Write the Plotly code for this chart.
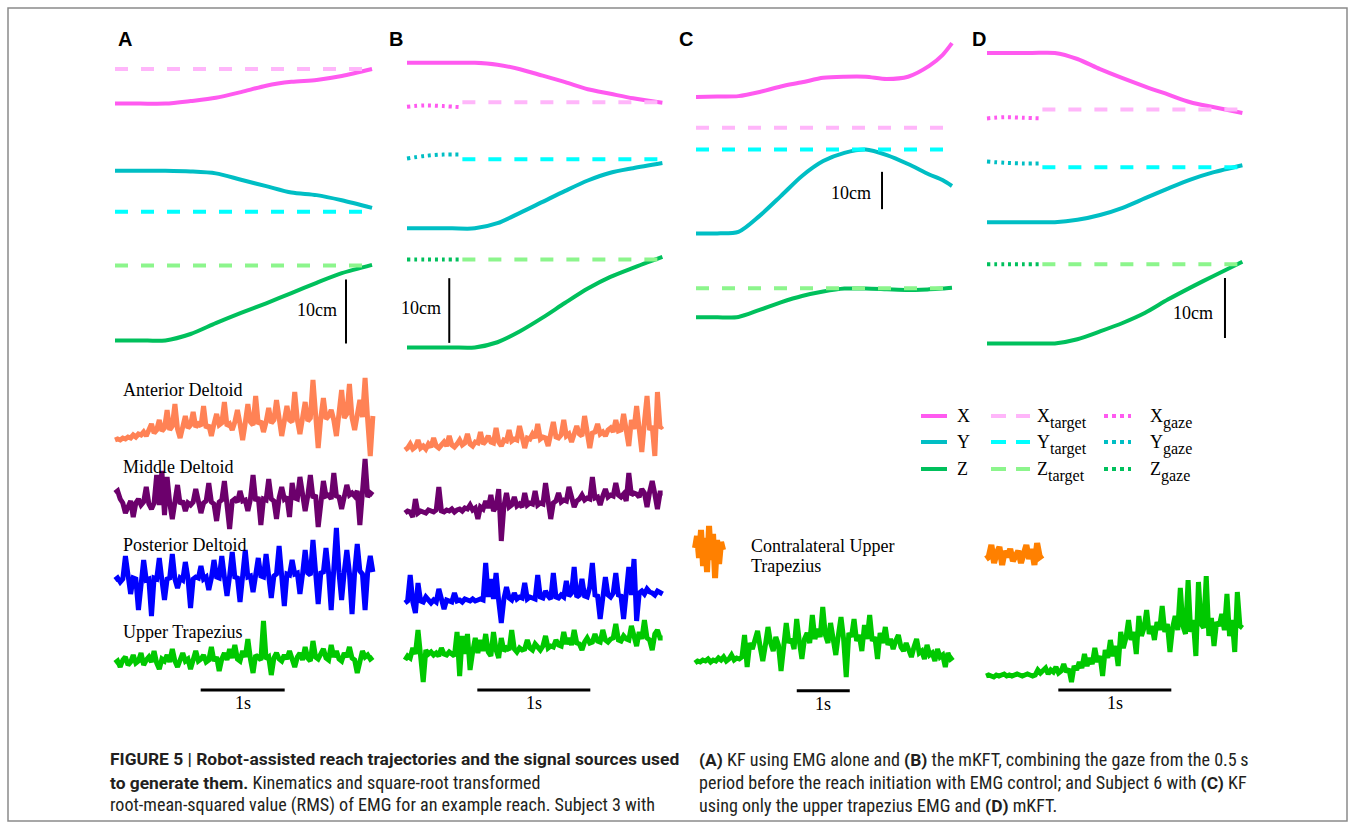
import numpy as np
import plotly.graph_objects as go

W, H = 1355, 829

# ---------------- Kinematics (cm) vs time (s) ----------------
tA = [0, 0.3, 0.6, 0.9, 1.2, 1.5, 1.8, 2.1, 2.4, 2.7, 3.06]
XA = [38.5, 38.5, 38.5, 38.9, 39.4, 40.3, 41.3, 41.9, 42.2, 42.8, 43.9]
YA = [28.0, 28.0, 28.0, 27.9, 27.6, 26.6, 25.6, 24.6, 24.2, 23.4, 22.2]
ZA = [1.5, 1.5, 1.5, 2.5, 4.2, 5.8, 7.3, 8.9, 10.5, 12.0, 13.3]
targetA = [43.9, 21.6, 13.2]

tB = [0, 0.2, 0.4, 0.6, 0.8, 1.0, 1.2, 1.4, 1.6, 1.8, 2.0, 2.26]
XB = [44.4, 44.4, 44.4, 44.4, 44.1, 43.4, 42.4, 41.4, 40.3, 39.6, 38.9, 38.2]
YB = [18.8, 18.8, 18.8, 18.8, 19.6, 21.2, 22.9, 24.6, 26.2, 27.4, 28.1, 28.9]
ZB = [0.4, 0.4, 0.4, 0.4, 1.2, 2.9, 5.0, 7.3, 9.5, 11.3, 12.7, 14.4]
targetB = [38.3, 29.5, 14.0]
tgazeB = [0, 0.16, 0.32, 0.49]
XgB = [37.6, 37.8, 37.7, 37.5]
YgB = [29.6, 30.0, 30.2, 30.2]
ZgB = [14.0, 14.0, 14.0, 14.0]

tC = [0, 0.4, 0.8, 1.2, 1.6, 2.0, 2.4, 2.8, 3.2, 3.6, 4.0, 4.4, 4.65, 4.83]
XC = [62.5, 62.6, 62.7, 63.8, 65.3, 66.4, 67.6, 67.9, 67.9, 67.3, 67.9, 70.8, 73.7, 76.9]
YC = [25.9, 25.9, 26.3, 30.6, 35.9, 41.3, 45.3, 47.5, 48.4, 46.9, 44.5, 41.7, 40.2, 38.6]
ZC = [3.4, 3.4, 3.5, 5.4, 7.4, 9.1, 10.3, 11.1, 11.1, 10.9, 10.7, 10.9, 11.1, 11.3]
targetC = [54.2, 48.4, 11.2]

tD = [0, 0.2, 0.4, 0.6, 0.8, 1.0, 1.2, 1.4, 1.6, 1.8, 2.0, 2.26]
XD = [49.5, 49.5, 49.5, 49.5, 48.5, 46.8, 45.3, 43.9, 42.6, 41.3, 40.5, 39.5]
YD = [21.3, 21.3, 21.3, 21.3, 21.7, 22.5, 23.7, 25.3, 26.9, 28.4, 29.6, 30.8]
ZD = [1.1, 1.1, 1.1, 1.1, 1.8, 3.1, 4.5, 6.2, 8.4, 10.4, 12.3, 14.7]
targetD = [40.1, 30.45, 14.3]
tgazeD = [0, 0.16, 0.32, 0.49]
XgD = [38.6, 38.8, 38.7, 38.6]
YgD = [31.4, 31.2, 31.1, 31.1]
ZgD = [14.3, 14.3, 14.3, 14.3]

scale_cm = 10
scale_s = 1

# ---------------- EMG RMS (a.u.), uniformly sampled ----------------
emg_A_ant = [0, 1, 0, 2, 1, 3, 2, 5, 3, 6, 5, 8, 4, 9, 16, 7, 10, 20, 9, 12,
             30, 10, 14, 36, 11, 2, 13, 24, 12, 15, 28, 13, 16, 14, 34, 12, 15, 4, 16, 26,
             15, 17, 38, 14, 16, 10, 18, 30, 16, 0, 17, 36, 18, 15, 44, 16, 19, 8, 18, 32,
             17, 20, 40, 18, 4, 19, 34, 20, 18, 48, 20, 6, 21, 38, 19, 22, 60, 20, -8, 22,
             42, 21, 24, 30, 20, 4, 23, 50, 22, 26, 56, 22, 10, 24, 40, 23, 62, 20, -16, 24]
emg_A_mid = [12, 14, 6, 2, -8, 0, 4, -12, 2, 6, 0, 3, 18, 1, -4, 2, 30, 0, 34, -10,
             28, 2, -14, 3, 20, 1, 4, -6, 2, 0, 3, 16, 1, -8, 2, 4, 22, 3, 1, -16,
             3, 5, 24, 2, -24, 4, 6, 3, 14, 4, 5, -6, 6, 30, 4, 8, -20, 6, 5, 26,
             6, 4, -14, 7, 18, 6, 8, -12, 22, 7, 6, 28, 8, -6, 9, 30, 7, 10, -22, 8,
             24, 9, 10, 6, 32, 9, 8, -4, 11, 20, 10, 12, 9, 14, -20, 10, 46, 8, 12, 10]
emg_A_post = [0, 2, -2, 1, 24, 0, -14, 2, 1, -30, 2, 20, 0, 1, -36, 2, 1, 22, 0, -20,
              1, 2, 26, 1, -8, 2, 0, 18, 2, -28, 1, 3, 2, 14, 1, 3, -10, 2, 20, 3,
              2, 24, 3, -16, 4, 28, 3, 2, -22, 4, 30, 3, 4, -12, 5, 22, 4, 3, 26, 5,
              -18, 4, 6, 34, 5, -26, 6, 5, 20, 6, 7, -14, 6, 30, 7, 5, 40, 6, -24, 7,
              8, 32, 7, -30, 8, 52, 7, -20, 8, 30, 7, -34, 8, 36, 9, 6, -30, 8, 24, 8]
emg_A_trap = [0, 2, -4, 3, 6, -2, 1, 8, 0, 2, 10, -2, 3, 6, 1, 12, 0, -6, 4, 2,
              8, 1, 14, 2, -4, 3, 10, 2, 4, -6, 3, 12, 2, 4, 8, 1, 3, 16, 2, 6,
              -8, 4, 10, 3, 14, 5, 18, 4, 2, 12, 6, 24, 4, -10, 8, 6, 3, 42, 4, 6,
              -12, 5, 10, 4, 2, 8, 4, 12, 5, -4, 6, 10, 3, 16, 5, 2, 22, 6, 4, 8,
              14, 5, 3, 18, 6, 12, 4, 2, 10, 6, 16, 5, 3, -10, 4, 12, 6, 8, 4, 6]

emg_B_ant = [0, 2, 6, 1, 3, 10, 2, 4, 1, 6, 3, 12, 4, 2, 5, 8, 4, 14, 5, 3,
             6, 10, 5, 7, 16, 6, 4, 8, 7, 18, 6, 9, 14, 8, 7, 22, 8, 4, 10, 9,
             20, 9, 11, 10, 24, 10, 2, 12, 11, 16, 12, 26, 11, 13, 12, 4, 14, 28, 13, 12,
             15, 30, 14, 16, 8, 15, 24, 16, 14, 34, 16, 2, 17, 18, 26, 16, 18, 14, 20, 22,
             18, 30, 19, 20, 36, 22, 4, 30, 21, 44, 22, -2, 28, 54, 20, 24, -6, 58, 22, 24]
emg_B_mid = [0, 2, 1, -4, 14, 0, 2, 1, 0, 3, 2, 1, 3, 26, 2, 1, 3, 2, 4, 1,
             3, 4, 2, 5, 4, 8, 3, 5, -6, 6, 4, 12, 5, 18, 2, 6, 24, -28, 7, 20,
             6, 8, 16, 7, 9, 6, 20, 8, 10, 9, 22, 8, 10, 9, 30, 11, -6, 10, 12, 20,
             11, 13, 12, 26, 14, 6, 12, 14, 18, 13, 15, 14, 36, 15, 16, 8, 17, 24, 16, 18,
             17, 30, 18, 16, 19, 12, 40, 18, 20, 19, 16, 24, 20, 6, 21, 32, 19, 4, 20, 20]
emg_B_post = [0, 2, 28, 1, -10, 20, 2, 1, 6, 2, 0, 3, 1, 14, 2, -6, 3, 2, 1, 10,
              2, 3, 1, 4, 3, 2, 4, 2, 3, 4, 3, 40, 6, 24, 4, 30, 2, -20, 4, 16,
              5, 3, 10, 4, 6, 5, 20, 4, 6, 5, 4, 28, 6, 5, 12, 7, 4, 30, 6, 5,
              8, 6, 22, 7, 10, 36, 6, 8, 24, 7, 6, 16, 40, 8, 7, -16, 9, 26, 8, 6,
              10, 30, 8, 7, -16, 9, 36, 8, 44, -18, 10, 12, 9, 14, 11, 10, 8, 12, 10, 9]
emg_B_trap = [0, 4, 2, 12, 6, 30, 4, -22, 10, 6, 8, 5, 7, 4, 12, 6, 5, 8, 6, 4,
              28, -16, 24, 6, 26, -10, 8, 22, 7, 20, 9, 26, 8, 4, 28, 10, 2, 22, 9, 12,
              10, 30, 11, 8, 12, 10, 11, 20, 12, 10, 16, 13, 10, 14, 24, 12, 14, 13, 20, 15,
              14, 28, 16, 22, 15, 30, 17, 16, 10, 18, 22, 17, 18, 26, 19, 18, 30, 20, 18, 21,
              22, 36, 20, 19, 24, 21, 20, 34, 22, 14, 28, 21, 40, 22, 20, 10, 26, 30, 22, 22]

emg_C_contra = [2, 14, -8, 20, -16, 12, -22, 24, -10, 16, -28, 10, -14, 8, 0]
emg_C_trap = [0, 2, 1, 3, 2, 4, 1, 3, 2, 5, 3, 6, 2, 4, 8, 3, 5, 4, 6, 28,
              -4, 20, 14, 22, 32, 16, 2, 18, 36, 20, 12, 26, 18, -8, 22, 40, 20, 24, 14, 44,
              22, 4, 24, 30, 20, 48, 24, 34, 26, 56, 28, 20, 40, 26, 8, 28, 46, 24, -14, 30,
              26, 44, 22, 28, 12, 38, 24, 48, 22, 26, 4, 30, 20, 36, 18, 24, 14, 22, 28, 16,
              12, 20, 14, 6, 16, 24, 10, 12, 4, 18, 8, 10, 2, 14, 6, 8, -4, 10, 4, 6]
emg_D_contra = [0, 2, 14, -4, 6, 12, -6, 8, 2, 10, -2, 4, 8, -4, 6, 14, 0, 10, -6, 16, 2, 4]
emg_D_trap = [0, 1, 0, -1, 1, 0, 1, 2, 0, 1, 0, 1, 2, 1, 0, 1, 2, 1, 0, 1,
              6, 3, 5, 8, 2, 6, 4, 9, 3, 5, 12, 4, 7, -6, 10, 6, 14, 8, 22, 10,
              18, 12, 28, 14, 20, 0, 26, 18, 36, 20, 30, 10, 44, 28, 38, 56, 36, 44, 22, 60,
              40, 48, 66, 42, 50, 36, 54, 46, 70, 44, 52, 24, 48, 60, 46, 88, 50, 42, 96, 44,
              56, 20, 94, 52, 48, 100, 40, 58, 30, 54, 50, 62, 46, 82, 40, 56, 24, 84, 50, 48]

emg_dur = {"A": 3.07, "B": 2.28, "C": 4.87, "D": 2.27, "C_contra": 0.53, "D_contra": 0.50}
muscle_names = ["Anterior Deltoid", "Middle Deltoid", "Posterior Deltoid", "Upper Trapezius"]

# ---------------- styles ----------------
C_X, C_Xt = "rgb(255,90,240)", "rgb(255,182,250)"
C_Y, C_Yt = "rgb(0,190,196)", "rgb(0,255,255)"
C_Z, C_Zt = "rgb(0,192,92)", "rgb(140,245,140)"
C_ANT, C_MID, C_POST, C_TRAP, C_CON = ("rgb(255,130,85)", "rgb(108,0,108)", "rgb(0,0,255)",
                                       "rgb(0,200,0)", "rgb(255,128,0)")
DASH = "13px,13px"
DOT = "3px,4px"
SERIF = "Liberation Serif, Times New Roman, serif"
SANS = "Liberation Sans, Arial, sans-serif"
CAPFONT = "Roboto Condensed, Liberation Sans Narrow, Arial Narrow, sans-serif"

# ---------------- layout geometry (pixels) ----------------
def xdom(l, r):
    return [l / W, r / W]

def ydom(t, b):
    return [1 - b / H, 1 - t / H]

def pxx(x):
    return x / W

def pxy(y):
    return 1 - y / H

kin = {
    "A": dict(x0=115, pps=84, base=350, ppcm=6.4, bar=(2.75, 1.0), lab=(2.67, 6.25)),
    "B": dict(x0=407, pps=113, base=350, ppcm=6.47, bar=(0.374, 1.1), lab=(0.32, 6.5)),
    "C": dict(x0=696, pps=53, base=330, ppcm=3.73, bar=(3.51, 32.4), lab=(3.34, 36.7)),
    "D": dict(x0=987, pps=113, base=350, ppcm=6.0, bar=(2.106, 2.0), lab=(2.02, 6.2)),
}
emgx0 = {"A": 115, "B": 405, "C": 695, "D": 986}
emg_ref = {
    "A": [440, 505, 580, 663],
    "B": [450, 513, 603, 660],
    "C": [550, 663],
    "D": [559, 676],
}
emg_base = 700
sbar = {"A": (1.02, 10), "B": (0.64, 10), "C": (1.92, 9.3), "D": (0.64, 10)}

fig = go.Figure()
layout = dict(width=W, height=H, margin=dict(l=0, r=0, t=0, b=0),
              paper_bgcolor="white", plot_bgcolor="rgba(0,0,0,0)", showlegend=False)
annotations = []
shapes = []

kin_data = {
    "A": (tA, XA, YA, ZA, targetA, None),
    "B": (tB, XB, YB, ZB, targetB, (tgazeB, XgB, YgB, ZgB)),
    "C": (tC, XC, YC, ZC, targetC, None),
    "D": (tD, XD, YD, ZD, targetD, (tgazeD, XgD, YgD, ZgD)),
}

axis_off = dict(visible=False, showgrid=False, zeroline=False, fixedrange=True)

for i, p in enumerate("ABCD"):
    n = i + 1
    c = kin[p]
    t, X, Y, Z, tg, gz = kin_data[p]
    T = t[-1]
    xl, xr = c["x0"] - 12, c["x0"] + T * c["pps"] + 12
    yt, yb = 25, 360
    layout[f"xaxis{n}"] = dict(domain=xdom(xl, xr), range=[-12 / c["pps"], T + 12 / c["pps"]],
                               anchor=f"y{n}", **axis_off)
    layout[f"yaxis{n}"] = dict(domain=ydom(yt, yb),
                               range=[(c["base"] - yb) / c["ppcm"], (c["base"] - yt) / c["ppcm"]],
                               anchor=f"x{n}", **axis_off)
    xa, ya = f"x{n}", f"y{n}"
    for vals, col in ((X, C_X), (Y, C_Y), (Z, C_Z)):
        fig.add_trace(go.Scatter(x=t, y=vals, mode="lines", xaxis=xa, yaxis=ya,
                                 line=dict(color=col, width=4, shape="spline", smoothing=0.8),
                                 hoverinfo="skip"))
    t0 = 0
    if gz is not None:
        tgz, Xg, Yg, Zg = gz
        t0 = tgz[-1]
        for vals, col in ((Xg, C_X), (Yg, C_Y), (Zg, C_Z)):
            fig.add_trace(go.Scatter(x=tgz, y=vals, mode="lines", xaxis=xa, yaxis=ya,
                                     line=dict(color=col, width=4, dash=DOT, shape="spline"),
                                     hoverinfo="skip"))
    for v, col in zip(tg, (C_Xt, C_Yt, C_Zt)):
        fig.add_trace(go.Scatter(x=[t0, T], y=[v, v], mode="lines", xaxis=xa, yaxis=ya,
                                 line=dict(color=col, width=4, dash=DASH), hoverinfo="skip"))
    bt, bc = c["bar"]
    fig.add_trace(go.Scatter(x=[bt, bt], y=[bc, bc + scale_cm], mode="lines", xaxis=xa, yaxis=ya,
                             line=dict(color="black", width=2), hoverinfo="skip"))
    annotations.append(dict(x=c["lab"][0], y=c["lab"][1], xref=xa, yref=ya, text=f"{scale_cm}cm",
                            showarrow=False, xanchor="right", yanchor="middle",
                            font=dict(family=SERIF, size=18, color="black")))

    # EMG axis
    m = n + 4
    ex0 = emgx0[p]
    pps = c["pps"]
    exl, exr = ex0 - 12, ex0 + 270
    eyt, eyb = 365, 722
    layout[f"xaxis{m}"] = dict(domain=xdom(exl, exr), range=[(exl - ex0) / pps, (exr - ex0) / pps],
                               anchor=f"y{m}", **axis_off)
    layout[f"yaxis{m}"] = dict(domain=ydom(eyt, eyb), range=[emg_base - eyb, emg_base - eyt],
                               anchor=f"x{m}", **axis_off)
    exa, eya = f"x{m}", f"y{m}"
    if p == "A":
        sets = [(emg_A_ant, C_ANT), (emg_A_mid, C_MID), (emg_A_post, C_POST), (emg_A_trap, C_TRAP)]
        durs = [emg_dur["A"]] * 4
    elif p == "B":
        sets = [(emg_B_ant, C_ANT), (emg_B_mid, C_MID), (emg_B_post, C_POST), (emg_B_trap, C_TRAP)]
        durs = [emg_dur["B"]] * 4
    elif p == "C":
        sets = [(emg_C_contra, C_CON), (emg_C_trap, C_TRAP)]
        durs = [emg_dur["C_contra"], emg_dur["C"]]
    else:
        sets = [(emg_D_contra, C_CON), (emg_D_trap, C_TRAP)]
        durs = [emg_dur["D_contra"], emg_dur["D"]]
    for (vals, col), ref, dur in zip(sets, emg_ref[p], durs):
        tt = np.linspace(0, dur, len(vals))
        off = emg_base - ref
        fig.add_trace(go.Scatter(x=tt, y=np.array(vals, float) + off, mode="lines",
                                 xaxis=exa, yaxis=eya,
                                 line=dict(color=col, width=5 if len(vals) > 30 else 6),
                                 hoverinfo="skip"))
    st, sy = sbar[p]
    fig.add_trace(go.Scatter(x=[st, st + scale_s], y=[sy, sy], mode="lines", xaxis=exa, yaxis=eya,
                             line=dict(color="black", width=3), hoverinfo="skip"))
    annotations.append(dict(x=st + scale_s / 2, y=sy - 13, xref=exa, yref=eya, text=f"{scale_s}s",
                            showarrow=False, xanchor="center", yanchor="middle",
                            font=dict(family=SERIF, size=18, color="black")))

# panel letters
for p, x in zip("ABCD", (116, 387, 677, 970)):
    annotations.append(dict(x=pxx(x), y=pxy(39), xref="paper", yref="paper", text=f"<b>{p}</b>",
                            showarrow=False, xanchor="left", yanchor="middle",
                            font=dict(family=SANS, size=20, color="black")))

# EMG labels
for name, y in zip(muscle_names, (390, 467, 545, 632)):
    annotations.append(dict(x=pxx(121), y=pxy(y), xref="paper", yref="paper", text=name,
                            showarrow=False, xanchor="left", yanchor="middle",
                            font=dict(family=SERIF, size=18, color="black")))
for txt, y in (("Contralateral Upper", 546), ("Trapezius", 566)):
    annotations.append(dict(x=pxx(749), y=pxy(y), xref="paper", yref="paper", text=txt,
                            showarrow=False, xanchor="left", yanchor="middle",
                            font=dict(family=SERIF, size=18, color="black")))

# legend (manual 3x3 grid)
leg_rows = [("X", C_X, C_Xt, 13), ("Y", C_Y, C_Yt, 13), ("Z", C_Z, C_Zt, 11)]
for (lab, cs, ct, wl), y in zip(leg_rows, (416, 442, 469)):
    shapes.append(dict(type="line", xref="paper", yref="paper", x0=pxx(921), x1=pxx(947),
                       y0=pxy(y), y1=pxy(y), line=dict(color=cs, width=4)))
    shapes.append(dict(type="line", xref="paper", yref="paper", x0=pxx(991), x1=pxx(1030),
                       y0=pxy(y), y1=pxy(y), line=dict(color=ct, width=4, dash="15px,10px")))
    shapes.append(dict(type="line", xref="paper", yref="paper", x0=pxx(1104), x1=pxx(1131),
                       y0=pxy(y), y1=pxy(y), line=dict(color=cs, width=4, dash="4px,4px")))
    for xx, sub in ((955, None), (1035, "target"), (1148, "gaze")):
        annotations.append(dict(x=pxx(xx), y=pxy(y), xref="paper", yref="paper", text=lab,
                                showarrow=False, xanchor="left", yanchor="middle",
                                font=dict(family=SERIF, size=18, color="black")))
        if sub:
            annotations.append(dict(x=pxx(xx + wl), y=pxy(y + 7), xref="paper", yref="paper",
                                    text=sub, showarrow=False, xanchor="left", yanchor="middle",
                                    font=dict(family=SERIF, size=16, color="black")))

# caption
BOLD = '<span style="font-family:Roboto;font-size:17.4px"><b>{}</b></span>'
cap_left = [
    BOLD.format("FIGURE 5 | Robot-assisted reach trajectories and the signal sources used"),
    BOLD.format("to generate them.") + " Kinematics and square-root transformed",
    "root-mean-squared value (RMS) of EMG for an example reach. Subject 3 with",
]
cap_right = [
    BOLD.format("(A)") + " KF using EMG alone and " + BOLD.format("(B)")
    + " the mKFT, combining the gaze from the 0.5\u2009s",
    "period before the reach initiation with EMG control; and Subject 6 with "
    + BOLD.format("(C)") + " KF",
    "using only the upper trapezius EMG and " + BOLD.format("(D)") + " mKFT.",
]
for col_x, lines in ((108, cap_left), (697, cap_right)):
    for k, txt in enumerate(lines):
        annotations.append(dict(x=pxx(col_x), y=pxy(759 + 23 * k), xref="paper", yref="paper",
                                text=txt, showarrow=False, xanchor="left", yanchor="middle",
                                font=dict(family=CAPFONT, size=18.1, color="#231f20")))

# border
shapes.append(dict(type="rect", xref="paper", yref="paper", x0=pxx(8), x1=pxx(1347),
                   y0=pxy(821), y1=pxy(8), line=dict(color="#8a8a8a", width=1.5)))

layout["annotations"] = annotations
layout["shapes"] = shapes
fig.update_layout(**layout)
fig.write_html("out.html", config={"displayModeBar": False},
               post_script="document.body.style.margin='0';")
